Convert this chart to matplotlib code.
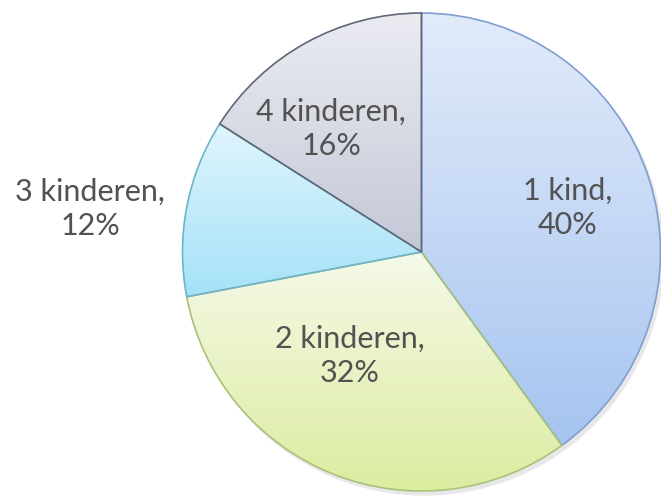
import numpy as np
import matplotlib
matplotlib.use('Agg')
import matplotlib.pyplot as plt
from matplotlib.colors import LinearSegmentedColormap

# data
labels = ['1 kind', '2 kinderen', '3 kinderen', '4 kinderen']
values = [40, 32, 12, 16]

# fill gradients (top, bottom) and edge colours per slice
top_colors = ['#e2ebfa', '#f5f9e8', '#e0f5fc', '#ebecf2']
bottom_colors = ['#a6c4f0', '#dceca0', '#a4e2f8', '#c4c7d6']
edge_colors = ['#7f9fd0', '#a9c27a', '#6cb4cc', '#5f6676']

# label anchor points (pixels from top-left of image)
label_pos = [(568, 208), (350, 356), (90, 209), (331, 129)]

W, H = 661, 498
fig = plt.figure(figsize=(W / 100, H / 100), dpi=100)
ax = fig.add_axes([0, 0, 1, 1])

cx, cy, r = 421.5, H - 252, 239

# faint shadow
shadow = plt.Circle((cx + 3, cy - 4), r, color='#e8e8e8', zorder=0)
ax.add_patch(shadow)

wedges, _ = ax.pie(values, center=(cx, cy), radius=r, startangle=90,
                   counterclock=False, frame=True,
                   wedgeprops=dict(linewidth=1.2, zorder=2))

grad = np.linspace(0, 1, 256).reshape(-1, 1)
for w, tc, bc, ec in zip(wedges, top_colors, bottom_colors, edge_colors):
    w.set_facecolor('none')
    w.set_edgecolor(ec)
    w.set_zorder(3)
    ext = w.get_path().get_extents()
    cmap = LinearSegmentedColormap.from_list('g', [tc, bc])
    im = ax.imshow(grad, cmap=cmap, aspect='auto', origin='upper',
                   extent=[ext.x0, ext.x1, ext.y0, ext.y1], zorder=1)
    im.set_clip_path(w)

ax.set_xlim(0, W)
ax.set_ylim(0, H)
ax.set_aspect('equal')
ax.axis('off')

plt.rcParams['font.family'] = ['Lato', 'DejaVu Sans']
for lab, v, (px, py) in zip(labels, values, label_pos):
    ax.text(px, H - py, '%s,\n%d%%' % (lab, v), ha='center', va='center',
            fontsize=22, color='#525252', linespacing=1.3, zorder=4)

plt.savefig('out.png', dpi=100)
